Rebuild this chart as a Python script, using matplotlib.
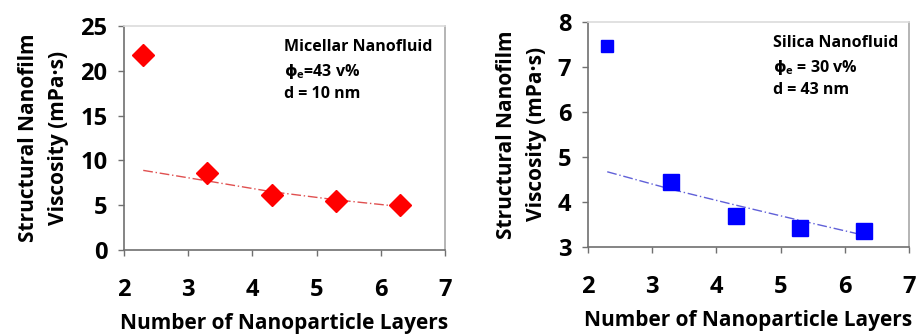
import matplotlib.pyplot as plt
import numpy as np

plt.rcParams['font.family'] = ['Open Sans', 'DejaVu Sans']
# phi in the annotations comes from DejaVu (Open Sans has no straight phi)
plt.rcParams['mathtext.fontset'] = 'custom'
plt.rcParams['mathtext.rm'] = 'DejaVu Sans:bold'
plt.rcParams['mathtext.it'] = 'DejaVu Sans:bold'
plt.rcParams['mathtext.bf'] = 'DejaVu Sans:bold'

layers = [2.3, 3.3, 4.3, 5.3, 6.3]

# micellar nanofluid (left)
micellar_visc = [21.8, 8.6, 6.13, 5.42, 5.05]
micellar_trend = [8.88, 7.7, 6.5, 5.6, 4.85]

# silica nanofluid (right)
silica_visc = [7.46, 4.45, 3.68, 3.43, 3.36]
silica_trend = [4.67, 4.28, 3.93, 3.59, 3.26]

fig = plt.figure(figsize=(9.17, 3.36), dpi=100)
ax1 = fig.add_axes([0.1352, 0.256, 0.350, 0.667])
ax2 = fig.add_axes([0.6412, 0.265, 0.350, 0.670])


def style(ax, ylim, yticks):
    ax.set_xlim(2, 7)
    ax.set_ylim(*ylim)
    ax.set_xticks(range(2, 8))
    ax.set_yticks(yticks)
    ax.spines['left'].set_color('#707070')
    ax.spines['bottom'].set_color('#707070')
    ax.spines['top'].set_color('#dcdcdc')
    ax.spines['right'].set_color('#a8a8a8')
    for s in ax.spines.values():
        s.set_linewidth(1.2)
    ax.tick_params(axis='x', direction='out', length=4, width=1, color='#707070',
                   pad=16, labelsize=17)
    ax.tick_params(axis='y', direction='out', length=4, width=1, color='#707070',
                   pad=8, labelsize=17)
    for lab in ax.get_xticklabels() + ax.get_yticklabels():
        lab.set_fontweight('bold')
    ax.set_xlabel('Number of Nanoparticle Layers', fontsize=15, fontweight='bold',
                  labelpad=8)
    ax.set_ylabel('Structural Nanofilm\nViscosity (mPa\u00b7s)', fontsize=15,
                  fontweight='bold', linespacing=1.55, labelpad=8)


# left panel
ax1.plot(layers, micellar_trend, color='#e05050', lw=1, linestyle=(0, (7, 2, 1, 2)))
ax1.plot(layers, micellar_visc, 'D', color='#ff0000', markersize=11, linestyle='none')
style(ax1, (0, 25), range(0, 26, 5))
ax1.text(0.5, 0.94, 'Micellar Nanofluid\n$\\phi_\\mathregular{e}$=43 v%\nd = 10 nm',
         transform=ax1.transAxes, fontsize=11.5, fontweight='bold', va='top',
         linespacing=1.45)

# right panel
ax2.plot(layers, silica_trend, color='#6060d8', lw=1, linestyle=(0, (7, 2, 1, 2)))
ax2.plot(layers[:1], silica_visc[:1], 's', color='#0000ff', markersize=8)
ax2.plot(layers[1:], silica_visc[1:], 's', color='#0000ff', markersize=11)
style(ax2, (3, 8), range(3, 9))
ax2.text(0.575, 0.94, 'Silica Nanofluid\n$\\phi_\\mathregular{e}$ = 30 v%\nd = 43 nm',
         transform=ax2.transAxes, fontsize=11.5, fontweight='bold', va='top',
         linespacing=1.45)

fig.savefig('out.png', dpi=100)
